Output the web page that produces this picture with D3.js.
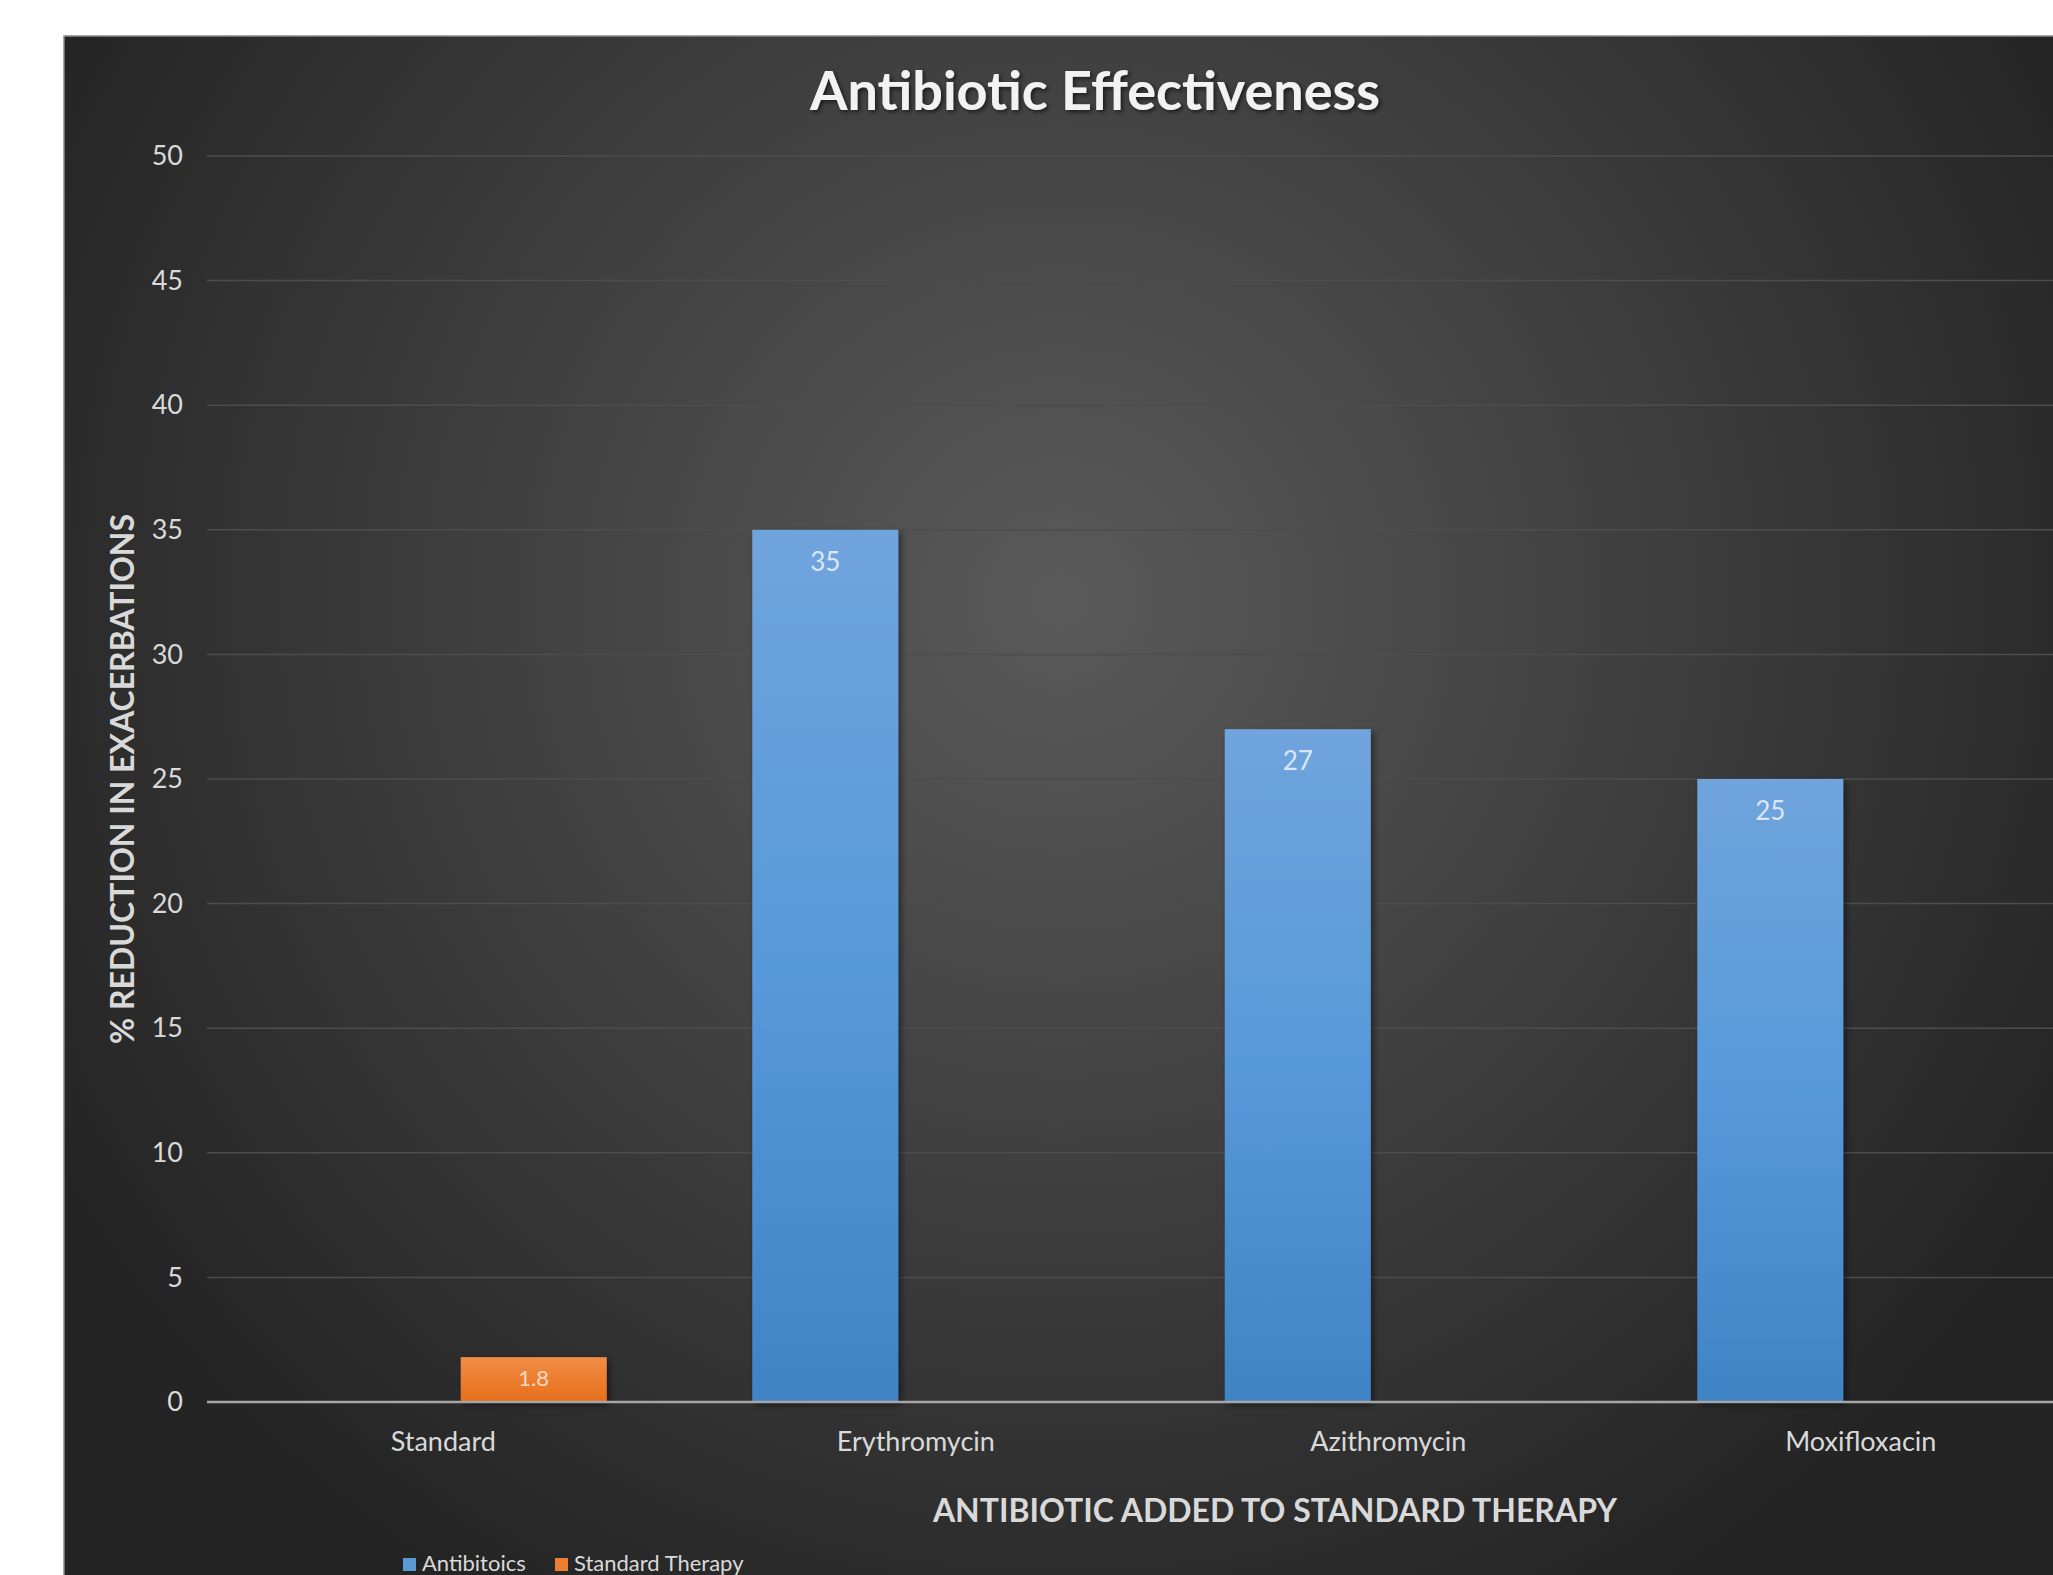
<!DOCTYPE html>
<html>
<head>
<meta charset="utf-8">
<script src="https://cdn.jsdelivr.net/npm/d3@7"></script>
<style>
    body { margin: 0; background: #fff; }
    text { font-family: Lato, "Open Sans", sans-serif; }
</style>
</head>
<body>
<script>
// chart data
const categories = ['Standard', 'Erythromycin', 'Azithromycin', 'Moxifloxacin'];
const seriesNames = ['Antibitoics', 'Standard Therapy'];
const antibiotics = [null, 35, 27, 25];
const standardTherapy = [1.8, null, null, null];
const seriesColors = ['#5b9bd5', '#ed7d31'];
const chartTitle = 'Antibiotic Effectiveness';
const xTitle = 'ANTIBIOTIC ADDED TO STANDARD THERAPY';
const yTitle = '% REDUCTION IN EXACERBATIONS';

const W = 2053, H = 1575;
const panel = { left: 64, top: 36 };
const margin = { left: 207, top: 156, bottom: 173 };
const plotRight = 2097;

const svg = d3.select('body').append('svg')
    .attr('width', W)
    .attr('height', H);

const defs = svg.append('defs');

const bg = defs.append('radialGradient')
    .attr('id', 'bg')
    .attr('gradientUnits', 'userSpaceOnUse')
    .attr('cx', 1060).attr('cy', 600).attr('r', 1150);
bg.append('stop').attr('offset', 0).attr('stop-color', '#5a5a5a');
bg.append('stop').attr('offset', 1).attr('stop-color', '#242424');

const blueGrad = defs.append('linearGradient').attr('id', 'blueGrad')
    .attr('x1', 0).attr('y1', 0).attr('x2', 0).attr('y2', 1);
blueGrad.append('stop').attr('offset', 0).attr('stop-color', '#70a4dd');
blueGrad.append('stop').attr('offset', 0.5).attr('stop-color', '#5799da');
blueGrad.append('stop').attr('offset', 1).attr('stop-color', '#3f84c5');

const orangeGrad = defs.append('linearGradient').attr('id', 'orangeGrad')
    .attr('x1', 0).attr('y1', 0).attr('x2', 0).attr('y2', 1);
orangeGrad.append('stop').attr('offset', 0).attr('stop-color', '#f28c45');
orangeGrad.append('stop').attr('offset', 1).attr('stop-color', '#e66f1c');

const shadow = defs.append('filter').attr('id', 'shadow')
    .attr('x', '-10%').attr('y', '-10%').attr('width', '130%').attr('height', '130%');
shadow.append('feDropShadow')
    .attr('dx', 3).attr('dy', 3).attr('stdDeviation', 3)
    .attr('flood-color', '#000').attr('flood-opacity', 0.45);

const textShadow = defs.append('filter').attr('id', 'textShadow');
textShadow.append('feDropShadow')
    .attr('dx', 2).attr('dy', 2).attr('stdDeviation', 2)
    .attr('flood-color', '#000').attr('flood-opacity', 0.6);

// background panel
svg.append('rect')
    .attr('x', panel.left).attr('y', panel.top)
    .attr('width', W - panel.left + 5).attr('height', H - panel.top + 5)
    .attr('fill', 'url(#bg)')
    .attr('stroke', '#8a8a8a')
    .attr('stroke-width', 1.5);

const x = d3.scaleBand()
    .domain(categories)
    .range([margin.left, plotRight])
    .paddingInner(0.308)
    .paddingOuter(0.154);

const xs = d3.scaleBand()
    .domain(seriesNames)
    .range([0, x.bandwidth()])
    .paddingInner(0.193);

const y = d3.scaleLinear()
    .domain([0, 50])
    .range([H - margin.bottom, margin.top]);

// gridlines
svg.append('g')
    .selectAll('line')
    .data(y.ticks(10).filter(d => d > 0))
    .enter()
    .append('line')
    .attr('x1', margin.left).attr('x2', W)
    .attr('y1', d => y(d)).attr('y2', d => y(d))
    .attr('stroke', '#4d4d4d')
    .attr('stroke-width', 1.5);

// y axis labels
const yAxis = svg.append('g')
    .attr('transform', `translate(${margin.left - 24},0)`)
    .call(d3.axisLeft(y).ticks(10).tickSize(0).tickPadding(0));
yAxis.select('.domain').remove();
yAxis.selectAll('text')
    .attr('fill', '#d9d9d9')
    .style('font-size', '27px');

// bars
const rows = categories.map((c, i) => ({ cat: c, vals: [antibiotics[i], standardTherapy[i]] }));
const groups = svg.append('g')
    .selectAll('g')
    .data(rows)
    .enter()
    .append('g')
    .attr('transform', d => `translate(${x(d.cat)},0)`);

const bars = groups.selectAll('g.bar')
    .data(d => d.vals.map((v, j) => ({ series: seriesNames[j], idx: j, value: v })).filter(d => d.value != null))
    .enter()
    .append('g')
    .attr('class', 'bar');

bars.append('rect')
    .attr('x', d => xs(d.series))
    .attr('y', d => y(d.value))
    .attr('width', xs.bandwidth())
    .attr('height', d => y(0) - y(d.value))
    .attr('fill', d => d.idx === 0 ? 'url(#blueGrad)' : 'url(#orangeGrad)')
    .attr('filter', 'url(#shadow)');

bars.append('text')
    .attr('x', d => xs(d.series) + xs.bandwidth() / 2)
    .attr('y', d => y(d.value) + (d.value < 5 ? 29 : 41))
    .attr('text-anchor', 'middle')
    .attr('fill', d => d.idx === 0 ? '#dbe6f3' : '#f8d9c2')
    .style('font-size', d => d.idx === 0 ? '26px' : '22px')
    .text(d => d.value);

// x axis line
svg.append('line')
    .attr('x1', margin.left).attr('x2', W)
    .attr('y1', y(0)).attr('y2', y(0))
    .attr('stroke', '#a6a6a6')
    .attr('stroke-width', 2.5);

// category labels
const xAxis = svg.append('g')
    .attr('transform', `translate(0,${y(0) + 30})`)
    .call(d3.axisBottom(x).tickSize(0).tickPadding(0));
xAxis.select('.domain').remove();
xAxis.selectAll('text')
    .attr('fill', '#d9d9d9')
    .style('font-size', '27px');

// titles
svg.append('text')
    .attr('x', 1095).attr('y', 110)
    .attr('text-anchor', 'middle')
    .attr('fill', '#f2f2f2')
    .attr('filter', 'url(#textShadow)')
    .style('font-size', '54px')
    .style('font-weight', 'bold')
    .text(chartTitle);

svg.append('text')
    .attr('x', 1275).attr('y', 1522)
    .attr('text-anchor', 'middle')
    .attr('fill', '#d9d9d9')
    .style('font-size', '32px')
    .style('font-weight', 'bold')
    .text(xTitle);

svg.append('text')
    .attr('transform', `translate(134,779) rotate(-90)`)
    .attr('text-anchor', 'middle')
    .attr('fill', '#d9d9d9')
    .style('font-size', '32px')
    .style('font-weight', 'bold')
    .text(yTitle);

// legend
const legend = svg.append('g')
    .selectAll('g')
    .data(seriesNames)
    .enter()
    .append('g')
    .attr('transform', (d, i) => `translate(${[403, 555][i]},1558)`);

legend.append('rect')
    .attr('width', 13).attr('height', 13)
    .attr('fill', (d, i) => seriesColors[i]);

legend.append('text')
    .attr('x', 19).attr('y', 13)
    .attr('fill', '#d9d9d9')
    .style('font-size', '22px')
    .text(d => d);
</script>
</body>
</html>
